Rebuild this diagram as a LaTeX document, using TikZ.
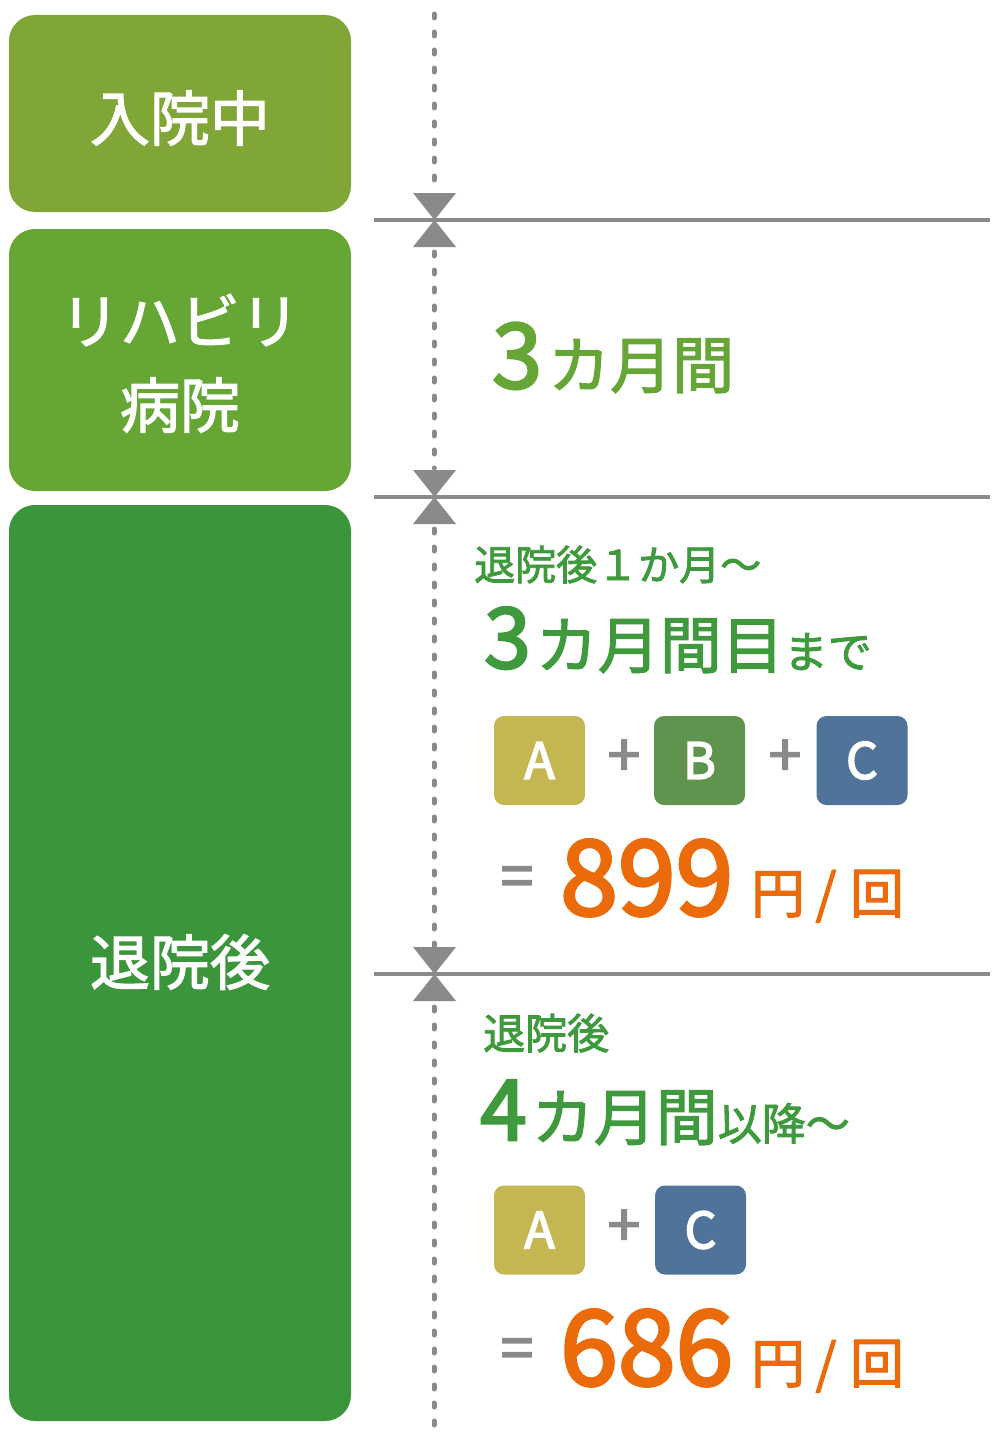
\documentclass[tikz,border=0pt]{standalone}
\usepackage{fontspec}
\setmainfont{Noto Sans CJK JP}
\newfontfamily\jp[FakeBold=2]{Noto Sans CJK JP}
\newfontfamily\jpb[FakeBold=3]{Noto Sans CJK JP}
\definecolor{cone}{HTML}{7FA637}
\definecolor{ctwo}{HTML}{65A635}
\definecolor{cthree}{HTML}{3B963B}
\definecolor{gtxtl}{HTML}{66A636}
\definecolor{gtxt}{HTML}{3E9A3C}
\definecolor{orng}{HTML}{EB6A0A}
\definecolor{gry}{HTML}{8A8A8A}
\definecolor{ca}{HTML}{C4B651}
\definecolor{cb}{HTML}{5F944F}
\definecolor{cc}{HTML}{50739A}
\newcommand{\fs}[1]{\fontsize{#1}{#1}\selectfont}
\begin{document}
\begin{tikzpicture}[x=1pt,y=-1pt,
  phase/.style={fill=#1,rounded corners=26pt,draw=none},
  boxtxt/.style={text=white,font=\jp\fs{60},align=center,inner sep=0pt},
  letterbox/.style={fill=#1,rounded corners=10pt,minimum width=91pt,minimum height=89pt,inner sep=0pt,text=white,font=\jpb\fs{50}},
  opsign/.style={text=gry,font=\jpb\fs{58},inner sep=0pt},
  divline/.style={draw=gry,line width=4pt},
  dotline/.style={draw=gry,line width=5pt,line cap=round,dash pattern=on 4pt off 14pt},
  tri/.style={fill=gry,draw=none},
  lbl/.style={inner sep=0pt,anchor=base west},
  unit/.style={inner sep=0pt,anchor=base,text=orng,font=\jp\fs{54}}
]
\useasboundingbox (0,0) rectangle (1000,1437);
% phase boxes
\path[phase=cone] (9,15) rectangle (351,212);
\path[phase=ctwo] (9,229) rectangle (351,491);
\path[phase=cthree] (9,505) rectangle (351,1421);
\node[boxtxt] (p1) at (180,118) {入院中};
\node[boxtxt] (p2a) at (180,320) {リハビリ};
\node[boxtxt] (p2b) at (180,405) {病院};
\node[boxtxt] (p3) at (180,962) {退院後};
% timeline
\coordinate (d0) at (434,14);
\coordinate (d1) at (434,191);
\coordinate (d2) at (434,252);
\coordinate (d3) at (434,468);
\coordinate (d4) at (434,529);
\coordinate (d5) at (434,946);
\coordinate (d6) at (434,1007);
\coordinate (d7) at (434,1425);
\draw[dotline] (d0) -- (d1);
\draw[dotline] (d2) -- (d3);
\draw[dotline] (d4) -- (d5);
\draw[dotline] (d6) -- (d7);
\foreach \y/\n in {220/a,497/b,974/c}{
  \coordinate (l\n) at (374,\y);
  \coordinate (r\n) at (990,\y);
  \draw[divline] (l\n) -- (r\n);
  \path[tri] (413,\y-27) -- (456,\y-27) -- (434.5,\y) -- cycle;
  \path[tri] (413,\y+27) -- (456,\y+27) -- (434.5,\y) -- cycle;
}
% rehab period
\node[lbl,text=gtxtl] (t1) at (492,388) {\jpb\fs{90}3\hspace{6pt}\jp\fs{62}カ月間};
% first period after discharge
\node[lbl,text=gtxt] (t2) at (474,580) {\jp\fs{41}退院後１か月〜};
\node[lbl,text=gtxt] (t3) at (484,668) {\jpb\fs{84}3\hspace{5pt}\jp\fs{62}カ月間目\fs{44}まで};
\node[letterbox=ca] (a1) at (539.5,760.5) {A};
\node[opsign] (pl1) at (624,758) {+};
\node[letterbox=cb] (b1) at (699.5,760.5) {B};
\node[opsign] (pl2) at (785,758) {+};
\node[letterbox=cc] (c1) at (862,760.5) {C};
\node[opsign] (eq1) at (517,882) {=};
\node[lbl,text=orng] (n1) at (560,915) {\jpb\fs{104}899};
\node[unit] (u1) at (778,913) {円};
\node[unit] (s1) at (826,913) {/};
\node[unit] (k1) at (877,913) {回};
% later period
\node[lbl,text=gtxt] (t4) at (483,1049) {\jp\fs{42}退院後};
\node[lbl,text=gtxt] (t5) at (480,1140) {\jpb\fs{84}4\hspace{5pt}\jp\fs{62}カ月間\fs{44}以降〜};
\node[letterbox=ca] (a2) at (539.5,1230) {A};
\node[opsign] (pl3) at (624,1228) {+};
\node[letterbox=cc] (c2) at (700.5,1230) {C};
\node[opsign] (eq2) at (517,1354) {=};
\node[lbl,text=orng] (n2) at (560,1385) {\jpb\fs{104}686};
\node[unit] (u2) at (778,1383) {円};
\node[unit] (s2) at (826,1383) {/};
\node[unit] (k2) at (877,1383) {回};
\end{tikzpicture}
\end{document}
